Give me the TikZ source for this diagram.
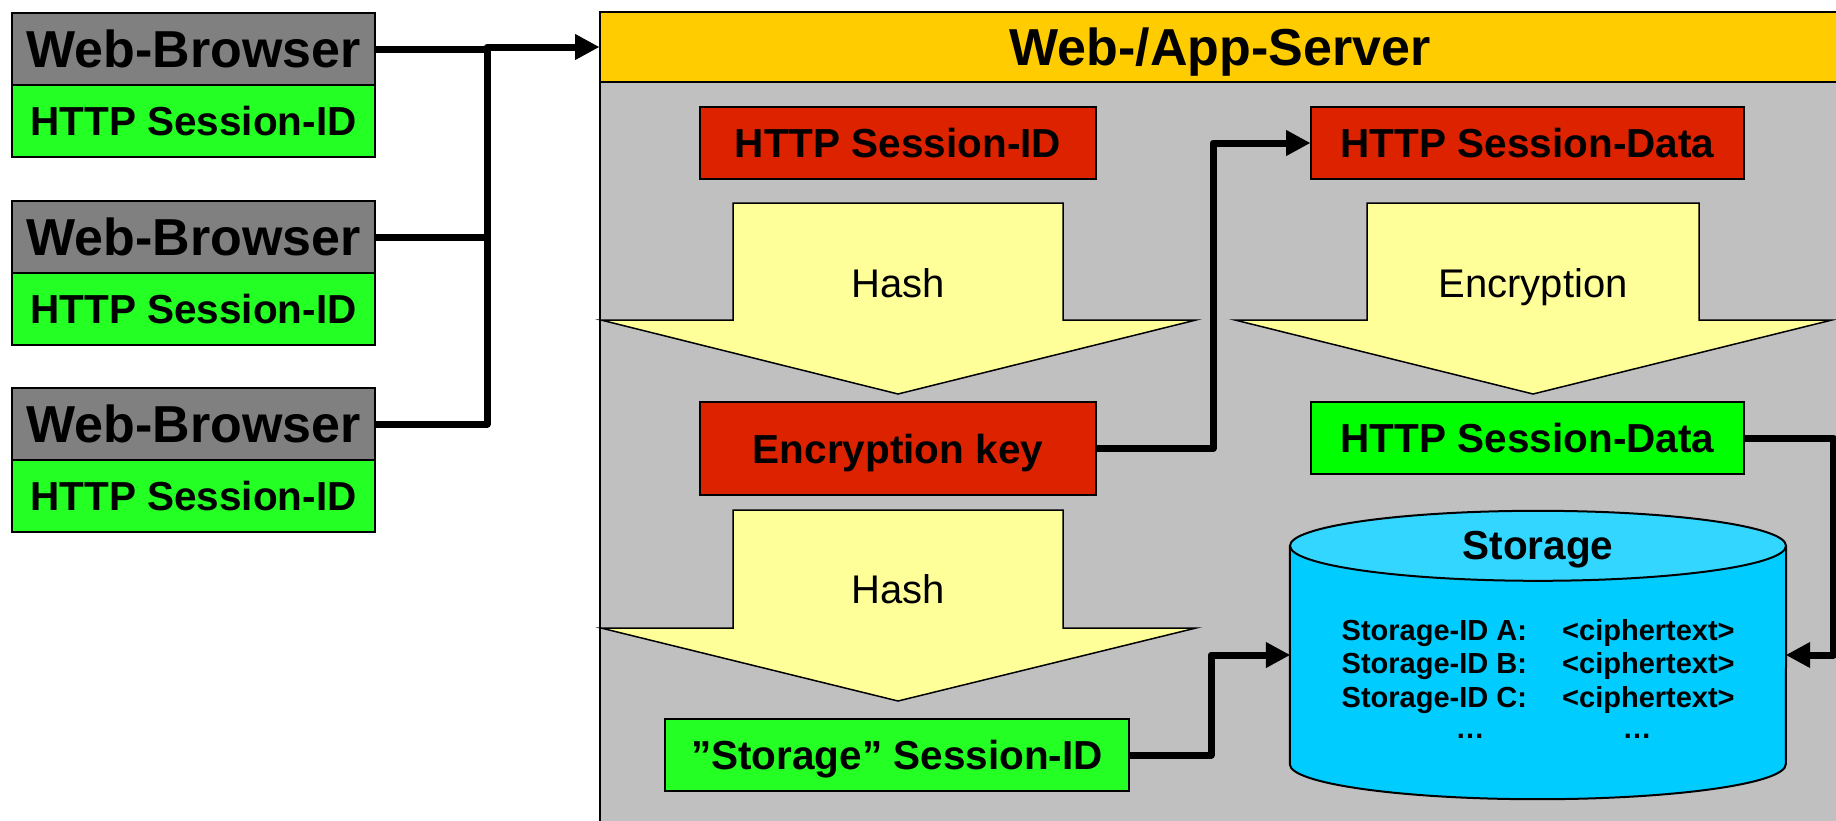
\documentclass[tikz,border=0pt]{standalone}
\usepackage{fontspec}
\setmainfont{Liberation Sans}
\usetikzlibrary{arrows.meta}

\definecolor{browsergray}{HTML}{808080}
\definecolor{idgreen}{HTML}{24FF24}
\definecolor{puregreen}{HTML}{00FF00}
\definecolor{keyred}{HTML}{DD2200}
\definecolor{headyellow}{HTML}{FFCC00}
\definecolor{servergray}{HTML}{C0C0C0}
\definecolor{paleyellow}{HTML}{FFFF99}
\definecolor{cylbody}{HTML}{00CCFF}
\definecolor{cyltop}{HTML}{33D6FF}

\tikzset{
  box/.style={draw=black, line width=2pt, inner sep=0pt, text depth=0pt,
    font=\fontsize{40.5}{48}\selectfont\bfseries},
  bigtext/.style={font=\fontsize{52}{62}\selectfont\bfseries},
  plaintext/.style={inner sep=0pt, text depth=0pt, font=\fontsize{40}{48}\selectfont},
  rowtext/.style={inner sep=0pt, font=\fontsize{29}{33}\selectfont\bfseries},
  wire/.style={line width=7pt, line join=round},
  flow/.style={wire, -{Triangle[length=24pt,width=26pt,line width=1pt]}},
  bigarrow/.style={draw=black, line width=1.5pt, fill=paleyellow, line join=miter},
}

\begin{document}
\begin{tikzpicture}[x=1pt,y=1pt]
\useasboundingbox (0,0) rectangle (1836,-820);
\fill[white] (0,0) rectangle (1836,-820);
\clip (0,0) rectangle (1836,-820);

% --- web browsers ---------------------------------------------------------
\node[box, bigtext, fill=browsergray, minimum width=363pt, minimum height=72pt] (b1) at (193.5,-49) {Web-Browser};
\node[box, fill=idgreen, minimum width=363pt, minimum height=72pt] (b1id) at (193.5,-121) {HTTP Session-ID};
\node[box, bigtext, fill=browsergray, minimum width=363pt, minimum height=72pt] (b2) at (193.5,-237) {Web-Browser};
\node[box, fill=idgreen, minimum width=363pt, minimum height=72pt] (b2id) at (193.5,-309) {HTTP Session-ID};
\node[box, bigtext, fill=browsergray, minimum width=363pt, minimum height=72pt] (b3) at (193.5,-424) {Web-Browser};
\node[box, fill=idgreen, minimum width=363pt, minimum height=72pt] (b3id) at (193.5,-496) {HTTP Session-ID};

% --- server frame -----------------------------------------------------------
\draw[line width=2pt, fill=servergray] (600,-82) rectangle (1840,-830);
\node[box, bigtext, fill=headyellow, minimum width=1240pt, minimum height=70pt] (srvhead) at (1220,-47) {Web-/App-Server};

% --- browser bus into the server ---------------------------------------------
\coordinate (bus) at (487,-47);
\draw[wire] (b1.east) -- (b1.east -| bus);
\draw[wire] (b2.east) -- (b2.east -| bus);
\draw[flow] (b3.east) -| (bus) -- (srvhead.west);

% --- session id / data boxes ---------------------------------------------------
\node[box, fill=keyred, minimum width=396pt, minimum height=72pt] (sid) at (898,-143) {HTTP Session-ID};
\node[box, fill=keyred, minimum width=433pt, minimum height=72pt] (sdata) at (1527.5,-143) {HTTP Session-Data};
\node[box, fill=keyred, minimum width=396pt, minimum height=93pt] (key) at (898,-448.5) {Encryption key};
\node[box, fill=puregreen, minimum width=433pt, minimum height=72pt] (cdata) at (1527.5,-438) {HTTP Session-Data};
\node[box, fill=idgreen, minimum width=464pt, minimum height=72pt] (stid) at (897,-755) {”Storage” Session-ID};

% --- processing arrows -----------------------------------------------------------
\draw[bigarrow] (733,-203) -- (1063,-203) -- (1063,-320) -- (1196,-320) -- (898,-394) -- (601,-320) -- (733,-320) -- cycle;
\node[plaintext] (hash1) at (898,-283) {Hash};
\draw[bigarrow] (1367,-203) -- (1699,-203) -- (1699,-320) -- (1832,-320) -- (1533,-394) -- (1235,-320) -- (1367,-320) -- cycle;
\node[plaintext] (encr) at (1533,-283) {Encryption};
\draw[bigarrow] (733,-510) -- (1063,-510) -- (1063,-628) -- (1196,-628) -- (898,-701) -- (601,-628) -- (733,-628) -- cycle;
\node[plaintext] (hash2) at (898,-589) {Hash};

% --- storage cylinder -------------------------------------------------------------
\node[minimum width=496pt, minimum height=218pt, inner sep=0pt] (store) at (1538,-655) {};
\fill[cylbody] (store.north west) -- (store.south west)
  arc[start angle=180, end angle=360, x radius=248pt, y radius=35pt] -- (store.north east) -- cycle;
\draw[line width=2pt] (store.north west) -- (store.south west)
  arc[start angle=180, end angle=360, x radius=248pt, y radius=35pt] -- (store.north east);
\draw[line width=2pt, fill=cyltop] (store.north) ellipse[x radius=248pt, y radius=35pt];
\node[box, draw=none] (stlabel) at (store.north) {Storage};

\node[rowtext, anchor=base west] (ra) at (1341.5,-640.5) {Storage-ID A:};
\node[rowtext, anchor=base west] (rb) at (1341.5,-673.5) {Storage-ID B:};
\node[rowtext, anchor=base west] (rc) at (1341.5,-707) {Storage-ID C:};
\node[rowtext, anchor=base west] (ca) at (1562,-640.5) {<ciphertext>};
\node[rowtext, anchor=base west] (cb) at (1562,-673.5) {<ciphertext>};
\node[rowtext, anchor=base west] (cc) at (1562,-707) {<ciphertext>};
\node[rowtext, anchor=base] (dl) at (1470,-738) {…};
\node[rowtext, anchor=base] (dr) at (1637,-738) {…};

% --- data flow inside the server -----------------------------------------------------
\draw[flow] (key.east) -- ++(116,0) |- (sdata.west);
\draw[flow] (stid.east) -- ++(81,0) |- (store.west);
\draw[flow] (cdata.east) -- ++(88,0) |- (store.east);
\end{tikzpicture}
\end{document}
